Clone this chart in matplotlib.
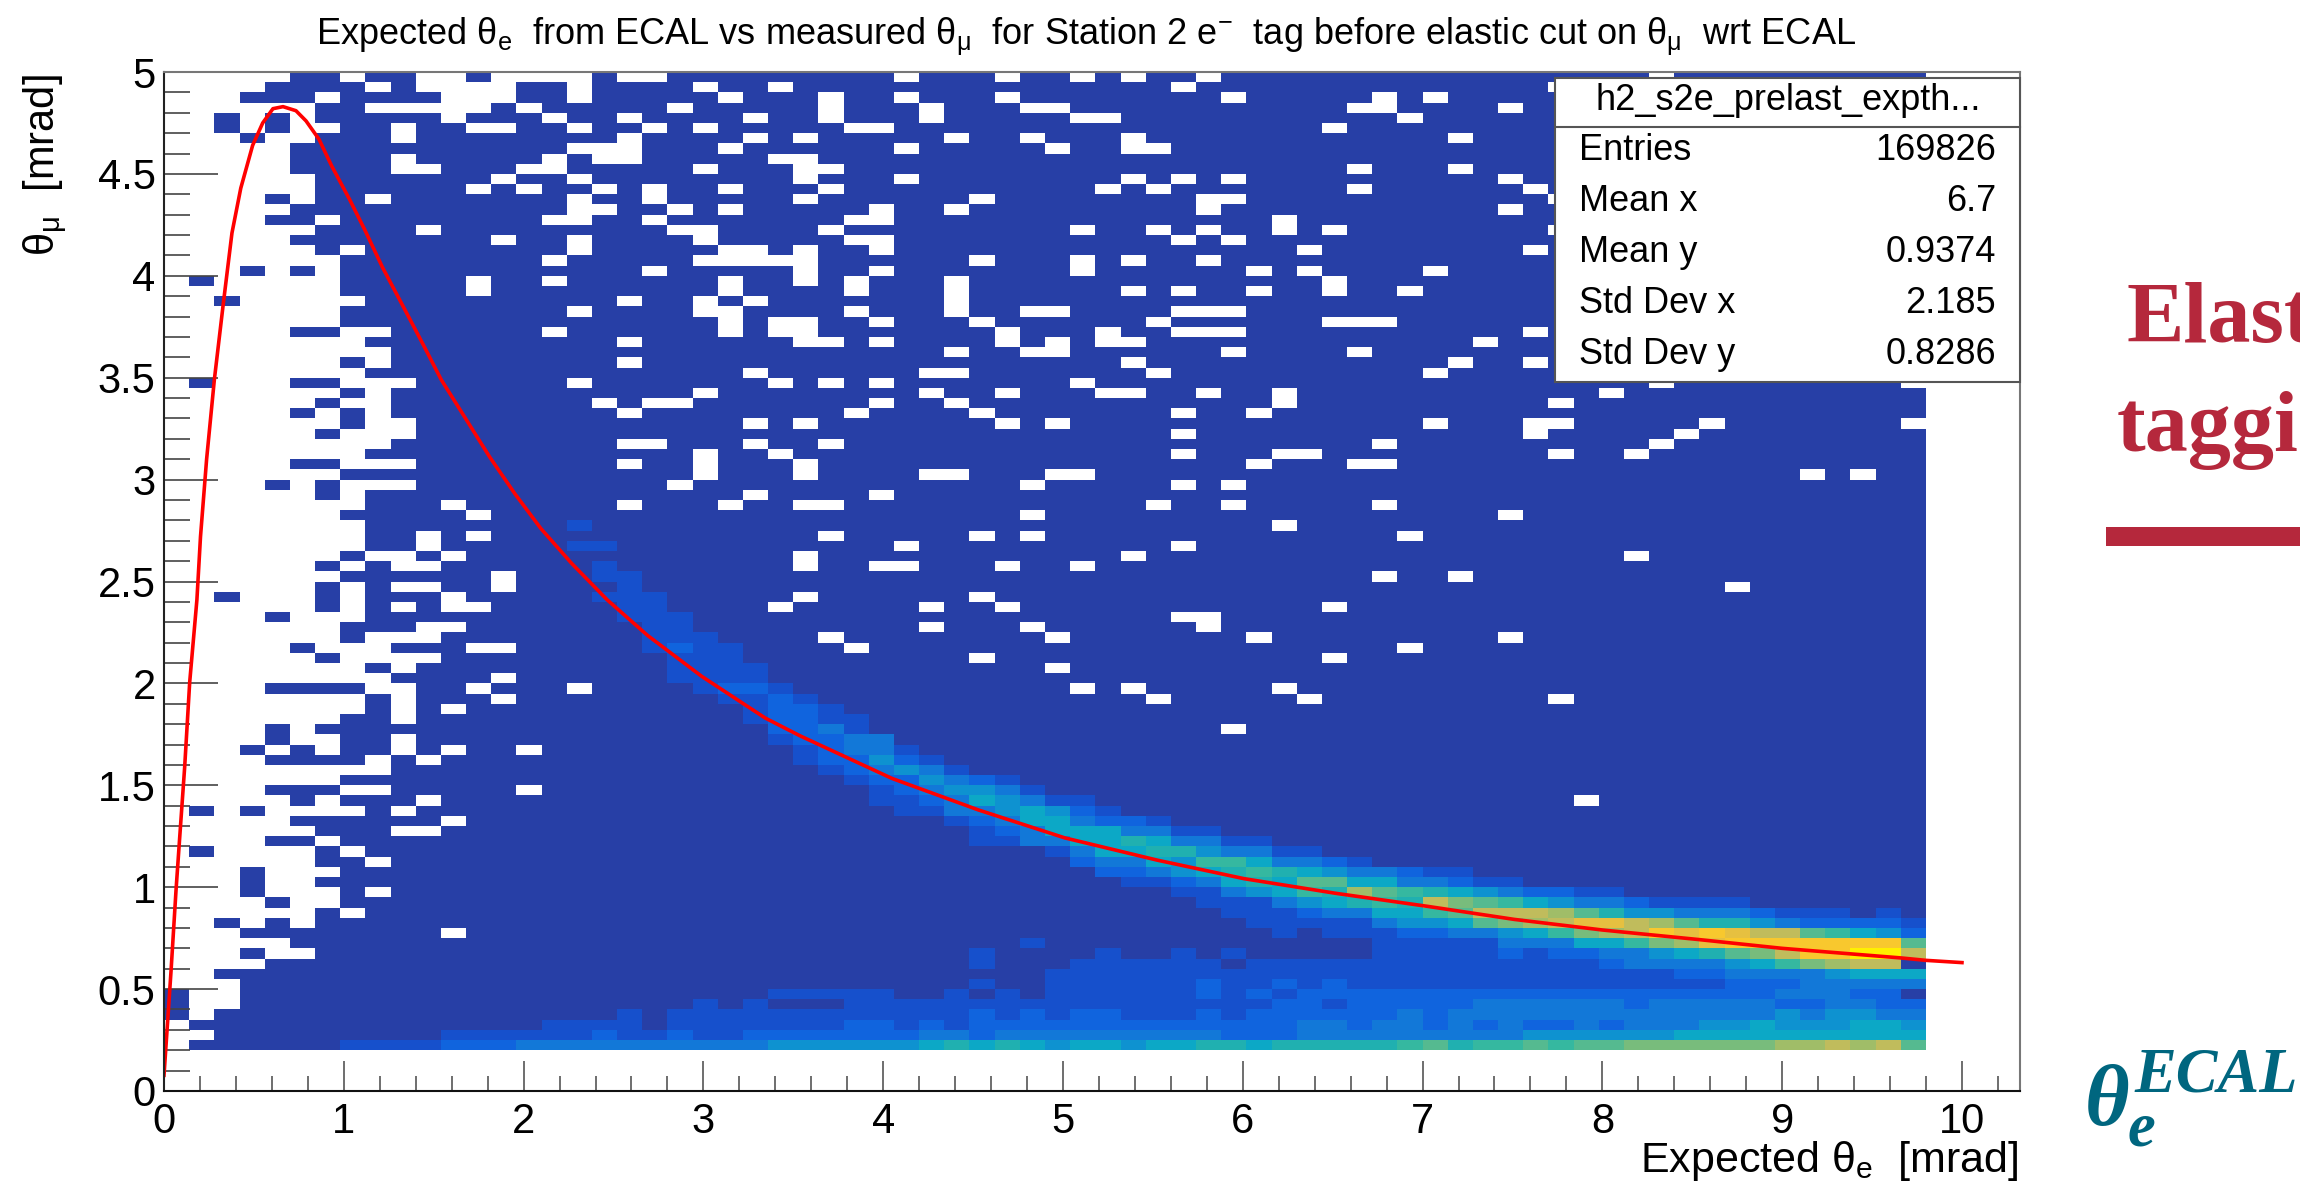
import numpy as np
import matplotlib
matplotlib.use("Agg")
import matplotlib.pyplot as plt
from matplotlib.colors import ListedColormap, BoundaryNorm
from matplotlib.patches import Rectangle
from matplotlib.ticker import MultipleLocator

plt.rcParams['font.family'] = ['Liberation Sans', 'DejaVu Sans']
plt.rcParams['mathtext.fontset'] = 'custom'
plt.rcParams['mathtext.rm'] = 'Liberation Sans'
plt.rcParams['mathtext.it'] = 'Liberation Sans'
plt.rcParams['mathtext.bf'] = 'Liberation Sans'

# histogram binning, rows are counted from the top of the plot
x_bin = 0.14
y_bin = 0.05
n_cols = 70
n_rows = 96
y_top = 5.0

# empty bins per row, as column numbers
empty_bins = {
    0: "0-4 7 10-11 13-16 18-19 29 33 36 38 41 59",
    1: "0-3 8 10-13 16 21 24 40 55",
    2: "0-2 6 11-13 16 22 26 29 33 42 48 50",
    3: "0-5 8-12 14 20 26 30 34-35 47-48 53",
    4: "0-1 3 5 11 15 18 23 26 30 36-37 49",
    5: "0-1 3 5-6 9 12-13 16 19 21 27-28 46",
    6: "0-2 4-5 9 18 23 25 31 34 38 51",
    7: "0-4 16-18 22 29 35 38-39",
    8: "0-4 9 15 17-18 24-25",
    9: "0-4 9-10 14-15 21 25-26 47 51",
    10: "0-5 13 16 25 29 38 40 42 53",
    11: "0-5 12 14 17 19 22 26 37 39 47 54",
    12: "0-3 5 8 16 19 25 32 41-42 55",
    13: "0-4 16-17 20 22 28 31 41 53",
    14: "0-3 6 15-16 19 27-28 44",
    15: "0-5 10 20-21 26 36 39 41 44 46 55",
    16: "0-4 13 16 21 27-28 40 42",
    17: "0-5 7 16 22-23 25 28 45 54",
    18: "0-6 15 21-25 32 36 38 41",
    19: "0-2 4 6 19 25 28 36 43 45 50",
    20: "0 2-6 12 15 22 25 27 31 46",
    21: "0-6 12 22 27 31 38 40 43 46 49",
    22: "0-1 3-7 18 21 23 31",
    23: "0-6 16 21-22 27 31 34-35 40-42",
    24: "0-6 22 24-25 28 32 39 46-48",
    25: "0-4 7-8 15 22 24-25 33 37 40-42 54",
    26: "0-7 18 25-26 28 33 35 37-38 52",
    27: "0-8 31 34-35 42 47",
    28: "0-6 8 18 38 51 54",
    29: "0-7 23 30-31 39 50",
    30: "0 2-4 7-9 16 24 26 28 36 59 69",
    31: "0-6 8 21 30 33 37-38 41 44 57",
    32: "0-5 7-8 17 19-20 28 31 44 55",
    33: "0-4 6 8 18 27 32 40 43",
    34: "0-6 8-9 23 25 33 35 50 54-55 61 69",
    35: "0-5 7-9 40 54 60",
    36: "0-8 18-19 23 26 48 59",
    37: "0-7 21 24 40 44-45 55 58",
    38: "0-4 7-9 18 21 25 43 47-48",
    39: "0-6 21 25 30-31 35-36 65 67",
    40: "0-3 5 7-9 20 34 40 42",
    41: "0-5 7 23 28",
    42: "0-7 11 18 22 25-26 39 42 48",
    43: "0-6 12 34 53",
    44: "0-7 44",
    45: "0-7 10 12 26 32 34 49",
    46: "0-7 10 29 40",
    47: "0-6 8-9 11 25 38 58",
    48: "0-5 7 9-10 25 28-29 33 36",
    49: "0-6 13 48 51",
    50: "0-5 7 9-10 13 62",
    51: "0-1 3-5 7 11 25 32",
    52: "0-5 7 9 11-12 24 30 33 46",
    53: "0-3 5-7 40-41",
    54: "0-6 10-11 30 34 41",
    55: "0-6 8-10 26 35 43 53",
    56: "0-4 6-8 12-13 27 49",
    57: "0-5 7-10 32 46",
    58: "0-7 9 35",
    59: "0-8 13",
    60: "0-3 8-9 12 16 36 38 44",
    61: "0-7 9 13 39 45 55",
    62: "0-7 9 11",
    63: "0-6 9",
    64: "0-3 5 42",
    65: "0-3 5-6 9",
    66: "0-2 4 6 9 11 14",
    67: "0-3 8 10",
    68: "0-8",
    69: "0-6",
    70: "0-3 7-8 14",
    71: "0-4 6 10 56",
    72: "0 2 4-7 9",
    73: "0-4 11",
    74: "0-5 9-10",
    75: "0-3 6",
    76: "0 2-5 7",
    77: "0-5 8",
    78: "0-2 4-6",
    79: "0-2 4-5",
    80: "0-2 4-6 8",
    81: "0-3 5-6",
    82: "0-5 7",
    83: "0-1 3 5",
    84: "0-2 11",
    85: "0-4",
    86: "0-2 4-5",
    87: "0-3",
    88: "0-1",
    89: "0-2",
    90: "1-2",
    91: "1-2",
    92: "1",
    93: "0",
    94: "0-1",
    95: "0",
}

# colour level of the filled bins above the lowest one: row -> first column, levels
band_rows = {
    44: (16, "1"),
    46: (16, "11"),
    48: (17, "1"),
    49: (17, "11"),
    50: (18, "1"),
    51: (17, "111"),
    52: (18, "11"),
    53: (18, "111"),
    54: (19, "11"),
    55: (19, "111"),
    56: (19, "1211"),
    57: (20, "111"),
    58: (20, "1111"),
    59: (20, "1111"),
    60: (21, "1221"),
    61: (22, "1121"),
    62: (23, "1221"),
    63: (23, "12211"),
    64: (24, "2231"),
    65: (24, "12233"),
    66: (25, "12331"),
    67: (25, "122421"),
    68: (26, "123431"),
    69: (27, "1224321"),
    70: (28, "1234431"),
    71: (28, "112354311"),
    72: (29, "113345421"),
    73: (31, "123553221"),
    74: (32, "1235553311"),
    75: (32, "113355653311"),
    76: (35, "13556643311"),
    77: (36, "233547753321"),
    78: (37, "223456765433211"),
    79: (38, "1123565885533211"),
    80: (40, "1134576a8765432211"),
    81: (41, "111345676b987543321111"),
    82: (42, "1112335578bbba86443332111010"),
    83: (43, "11111344589abccba8664322221"),
    84: (44, "1011122334579abdcdcbb87542"),
    85: (34, "1000000000000011111" "3335579ac" "ddddddd8"),
    86: (32, "10000100101000001111121223345689bddeeb"),
    87: (32, "1000111111011111111111111233334579abb"),
    88: (35, "11111111111111111111111112233334555"),
    89: (32, "100111111211212111111111111111" "22233333"),
    90: (24, "1111100101011111121212222222222222222222" "33322"),
    91: (21, "101000111111111111111112212222233333323333322" "3322"),
    92: (18, "1011111111111121212211121222222323333333333333" "434433"),
    93: (15, "1111011111112212122222222222223323323232232333" "445444554"),
    94: (11, "111111211211222222233233333333322233333333" "34444445555555555"),
    95: (7, "111122233333333334444445656545545566566666" "7867787889999" "99aabab8"),
}

level_chars = "0123456789abcde"
level_colors = ["#273fa6", "#1650cc", "#1064de", "#1278d8", "#0e92d0", "#0ca8c6",
                "#20b0b0", "#35b8a0", "#55ba90", "#78bc7c", "#a0bd68", "#c0bc5c",
                "#e6c040", "#f8c82e", "#fff000"]

# fitted elastic curve
curve_x = [0.0, 0.039, 0.067, 0.087, 0.115, 0.143, 0.183, 0.203, 0.237, 0.28, 0.328, 0.378,
           0.427, 0.493, 0.549, 0.606, 0.662, 0.734, 0.79, 0.862, 0.932, 1.032, 1.117, 1.216,
           1.33, 1.443, 1.542, 1.67, 1.812, 1.952, 2.096, 2.266, 2.465, 2.69, 2.99, 3.344,
           3.537, 4.048, 4.53, 5.01, 5.523, 6.006, 6.517, 7.028, 7.51, 8.0, 8.537, 9.0, 9.66, 9.8, 10.0]
curve_y = [0.077, 0.587, 0.987, 1.24, 1.59, 2.007, 2.41, 2.72, 3.10, 3.49, 3.85, 4.21,
           4.43, 4.64, 4.75, 4.82, 4.83, 4.81, 4.76, 4.67, 4.54, 4.375, 4.225, 4.04,
           3.85, 3.66, 3.49, 3.31, 3.11, 2.93, 2.76, 2.59, 2.41, 2.235, 2.035, 1.83,
           1.743, 1.534, 1.379, 1.242, 1.133, 1.042, 0.97, 0.906, 0.842, 0.79, 0.743, 0.70, 0.653, 0.641, 0.63]

stats_name = "h2_s2e_prelast_expth..."
stats_labels = ["Entries", "Mean x", "Mean y", "Std Dev x", "Std Dev y"]
stats_values = ["169826", "6.7", "0.9374", "2.185", "0.8286"]

W, H = 2300, 1182


def fx(px):
    return px / W


def fy(py):
    return 1 - py / H


def build_grid():
    grid = np.zeros((n_rows, n_cols))
    for row, (first, levels) in band_rows.items():
        for i, c in enumerate(levels[:n_cols - first]):
            grid[row, first + i] = level_chars.index(c)
    for row, cols in empty_bins.items():
        for part in cols.split():
            lo, _, hi = part.partition("-")
            grid[row, int(lo):int(hi or lo) + 1] = np.nan
    return grid


fig = plt.figure(figsize=(W / 100, H / 100), dpi=100)
ax = fig.add_axes([fx(164), fy(1091), fx(2020.4 - 164), (1091 - 72) / H])

grid = build_grid()
x_edges = np.arange(n_cols + 1) * x_bin
y_edges = y_top - np.arange(n_rows + 1) * y_bin
cmap = ListedColormap(level_colors)
norm = BoundaryNorm(np.arange(len(level_colors) + 1) - 0.5, len(level_colors))
ax.pcolormesh(x_edges, y_edges, np.ma.masked_invalid(grid), cmap=cmap, norm=norm, antialiased=False)
ax.plot(curve_x, curve_y, color="#ff0000", lw=2.6)

ax.set_xlim(0, 10.325)
ax.set_ylim(0, 5)
ax.set_xticks(range(0, 11))
ax.set_yticks(np.arange(0, 5.5, 0.5))
ax.set_yticklabels(["0", "0.5", "1", "1.5", "2", "2.5", "3", "3.5", "4", "4.5", "5"])
ax.xaxis.set_minor_locator(MultipleLocator(0.2))
ax.yaxis.set_minor_locator(MultipleLocator(0.1))
ax.tick_params(axis="x", which="major", direction="in", length=21.6, width=1.2, color="#555555",
               labelsize=30, pad=8)
ax.tick_params(axis="x", which="minor", direction="in", length=10.8, width=1.2, color="#555555")
ax.tick_params(axis="y", which="major", direction="in", length=39, width=1.2, color="#444444",
               labelsize=30, pad=6)
ax.tick_params(axis="y", which="minor", direction="in", length=19, width=1.2, color="#444444")
for side, col in [("left", "#222222"), ("bottom", "#111111"), ("top", "#777777"), ("right", "#777777")]:
    ax.spines[side].set_color(col)
    ax.spines[side].set_linewidth(1.5)

fig.text(fx(1086), fy(37), r"Expected $\mathrm{θ_{e}}$  from ECAL vs measured $\mathrm{θ_{μ}}$  for Station 2 "
         r"e$^{\mathrm{-}}$  tag before elastic cut on $\mathrm{θ_{μ}}$  wrt ECAL",
         fontsize=26, ha="center", va="center")
fig.text(fx(46), fy(74), r"$\mathrm{θ_{μ}}$  [mrad]", fontsize=30, rotation=90, ha="center", va="top")
fig.text(fx(2018), fy(1161), r"Expected $\mathrm{θ_{e}}$  [mrad]", fontsize=31, ha="right", va="center")

# stats box
fig.add_artist(Rectangle((fx(1555), fy(382)), fx(465), (382 - 78) / H, transform=fig.transFigure,
                         facecolor="white", edgecolor="#555555", lw=1.5, zorder=5))
fig.add_artist(plt.Line2D([fx(1555), fx(2020)], [fy(127), fy(127)], color="#555555", lw=1.5, zorder=6))
fig.text(fx(1788), fy(101), stats_name, fontsize=26, ha="center", va="center", zorder=7)
for i, (lab, val) in enumerate(zip(stats_labels, stats_values)):
    row_y = fy(151 + i * 50.8)
    fig.text(fx(1579), row_y, lab, fontsize=26, ha="left", va="center", zorder=7)
    fig.text(fx(1996), row_y, val, fontsize=26, ha="right", va="center", zorder=7)

# slide text to the right of the plot
red = "#b5283c"
teal = "#00667f"
fig.text(fx(2126), fy(342), "Elast", family="Liberation Serif", weight="bold", fontsize=62,
         color=red, ha="left", va="baseline")
fig.text(fx(2117), fy(451), "taggi", family="Liberation Serif", weight="bold", fontsize=62,
         color=red, ha="left", va="baseline")
fig.add_artist(Rectangle((fx(2105.6), fy(546)), fx(W - 2105.6), 19 / H, transform=fig.transFigure,
                         facecolor=red, edgecolor="none"))
fig.text(fx(2085), fy(1125), "θ", family="Liberation Serif", weight="bold", style="italic", fontsize=62,
         color=teal, ha="left", va="baseline")
fig.text(fx(2134), fy(1092), "ECAL", family="Liberation Serif", weight="bold", style="italic", fontsize=45,
         color=teal, ha="left", va="baseline")
fig.text(fx(2128), fy(1146), "e", family="Liberation Serif", weight="bold", style="italic", fontsize=45,
         color=teal, ha="left", va="baseline")

fig.savefig("out.png", dpi=100)
